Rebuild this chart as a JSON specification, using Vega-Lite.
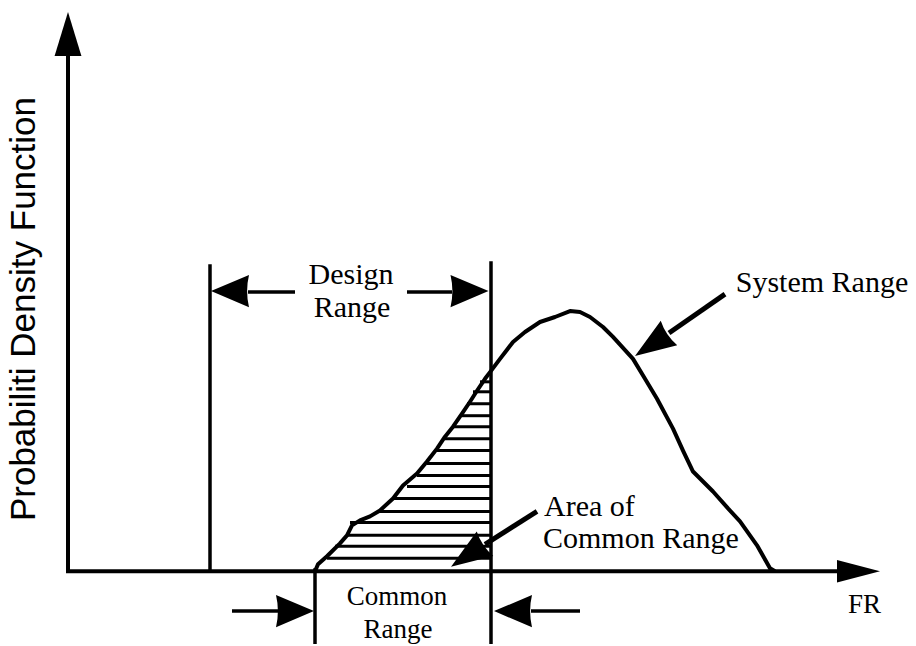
{
  "$schema": "https://vega.github.io/schema/vega-lite/v6.json",
  "width": 916,
  "height": 646,
  "autosize": {"type": "fit", "contains": "padding"},
  "padding": 0,
  "background": "white",
  "config": {"view": {"stroke": null}},
  "datasets": {
    "curve": [
      {"fr": 247, "pdf": 0}, {"fr": 250, "pdf": 7}, {"fr": 259, "pdf": 15}, {"fr": 272, "pdf": 28},
      {"fr": 279, "pdf": 36}, {"fr": 284, "pdf": 46}, {"fr": 292, "pdf": 51}, {"fr": 302, "pdf": 55},
      {"fr": 312, "pdf": 61}, {"fr": 325, "pdf": 73}, {"fr": 335, "pdf": 86}, {"fr": 349, "pdf": 98},
      {"fr": 359, "pdf": 110}, {"fr": 369, "pdf": 123}, {"fr": 377, "pdf": 135}, {"fr": 385, "pdf": 145},
      {"fr": 394, "pdf": 158}, {"fr": 402, "pdf": 170}, {"fr": 409, "pdf": 181}, {"fr": 417, "pdf": 193},
      {"fr": 423, "pdf": 201}, {"fr": 432, "pdf": 213}, {"fr": 445, "pdf": 230}, {"fr": 457, "pdf": 240},
      {"fr": 472, "pdf": 250}, {"fr": 487, "pdf": 255}, {"fr": 502, "pdf": 261}, {"fr": 512, "pdf": 260},
      {"fr": 522, "pdf": 255}, {"fr": 535, "pdf": 245}, {"fr": 545, "pdf": 235}, {"fr": 565, "pdf": 213},
      {"fr": 577, "pdf": 193}, {"fr": 589, "pdf": 173}, {"fr": 605, "pdf": 143}, {"fr": 615, "pdf": 121},
      {"fr": 625, "pdf": 100}, {"fr": 645, "pdf": 80}, {"fr": 660, "pdf": 63}, {"fr": 672, "pdf": 50},
      {"fr": 689, "pdf": 26}, {"fr": 702, "pdf": 3}, {"fr": 707, "pdf": 0}
    ],
    "segments": [
      {"x": 0, "y": 0, "x2": 0, "y2": 519, "part": "axis"},
      {"x": -2, "y": 0, "x2": 771, "y2": 0, "part": "axis"},
      {"x": 142, "y": 308, "x2": 142, "y2": 0, "part": "boundary"},
      {"x": 423, "y": 311, "x2": 423, "y2": -73, "part": "boundary"},
      {"x": 247, "y": 3, "x2": 247, "y2": -73, "part": "boundary"},
      {"x": 180, "y": 280, "x2": 227, "y2": 280, "part": "shaft"},
      {"x": 339, "y": 280, "x2": 384, "y2": 280, "part": "shaft"},
      {"x": 164, "y": -40, "x2": 211, "y2": -40, "part": "shaft"},
      {"x": 463, "y": -40, "x2": 512, "y2": -40, "part": "shaft"},
      {"x": 657, "y": 278, "x2": 601, "y2": 239, "part": "diag"},
      {"x": 469, "y": 60, "x2": 417, "y2": 27, "part": "diag"},
      {"x": 259, "y": 13, "x2": 422, "y2": 13, "part": "hatch"},
      {"x": 267, "y": 25, "x2": 422, "y2": 25, "part": "hatch"},
      {"x": 279, "y": 36, "x2": 422, "y2": 36, "part": "hatch"},
      {"x": 282, "y": 49, "x2": 422, "y2": 49, "part": "hatch"},
      {"x": 312, "y": 60, "x2": 422, "y2": 60, "part": "hatch"},
      {"x": 325, "y": 73, "x2": 422, "y2": 73, "part": "hatch"},
      {"x": 339, "y": 85, "x2": 422, "y2": 85, "part": "hatch"},
      {"x": 349, "y": 96, "x2": 422, "y2": 96, "part": "hatch"},
      {"x": 359, "y": 108, "x2": 422, "y2": 108, "part": "hatch"},
      {"x": 367, "y": 121, "x2": 422, "y2": 121, "part": "hatch"},
      {"x": 377, "y": 133, "x2": 422, "y2": 133, "part": "hatch"},
      {"x": 385, "y": 145, "x2": 422, "y2": 145, "part": "hatch"},
      {"x": 394, "y": 156, "x2": 422, "y2": 156, "part": "hatch"},
      {"x": 399, "y": 168, "x2": 422, "y2": 168, "part": "hatch"},
      {"x": 405, "y": 180, "x2": 422, "y2": 180, "part": "hatch"},
      {"x": 412, "y": 190, "x2": 422, "y2": 190, "part": "hatch"}
    ],
    "heads": [
      {"x": 0, "y": 539, "points": "up"},
      {"x": 790.5, "y": 0, "points": "axis-right"},
      {"x": 162, "y": 281, "points": "left"},
      {"x": 401.5, "y": 281, "points": "right"},
      {"x": 227, "y": -40, "points": "right"},
      {"x": 445, "y": -40, "points": "left"},
      {"x": 584, "y": 227.5, "points": "down-left"},
      {"x": 400, "y": 16, "points": "down-left"}
    ],
    "labels": [
      {"x": 283, "y": 288, "text": "Design", "group": "c30"},
      {"x": 284, "y": 255, "text": "Range", "group": "c30"},
      {"x": 754, "y": 280, "text": "System Range", "group": "c30"},
      {"x": 476, "y": 55, "text": "Area of", "group": "l30"},
      {"x": 475, "y": 23, "text": "Common Range", "group": "l30"},
      {"x": 329, "y": -34, "text": "Common", "group": "c27"},
      {"x": 330, "y": -67, "text": "Range", "group": "c27"},
      {"x": 796.5, "y": -42, "text": "FR", "group": "c27"},
      {"x": -33, "y": 263, "text": "Probabiliti Density Function", "group": "axis"}
    ]
  },
  "layer": [
    {
      "data": {"name": "segments"},
      "transform": [{"filter": "datum.part == 'hatch'"}],
      "mark": {"type": "rule", "color": "black", "strokeWidth": 3},
      "encoding": {
        "x": {"field": "x", "type": "quantitative", "scale": {"domain": [-68, 848], "nice": false, "zero": false}, "axis": null},
        "y": {"field": "y", "type": "quantitative", "scale": {"domain": [-73, 573], "nice": false, "zero": false}, "axis": null},
        "x2": {"field": "x2"},
        "y2": {"field": "y2"}
      }
    },
    {
      "data": {"name": "segments"},
      "transform": [{"filter": "datum.part == 'boundary'"}],
      "mark": {"type": "rule", "color": "black", "strokeWidth": 3.5},
      "encoding": {
        "x": {"field": "x", "type": "quantitative", "scale": {"domain": [-68, 848], "nice": false, "zero": false}, "axis": null},
        "y": {"field": "y", "type": "quantitative", "scale": {"domain": [-73, 573], "nice": false, "zero": false}, "axis": null},
        "x2": {"field": "x2"},
        "y2": {"field": "y2"}
      }
    },
    {
      "data": {"name": "segments"},
      "transform": [{"filter": "datum.part == 'axis'"}],
      "mark": {"type": "rule", "color": "black", "strokeWidth": 4},
      "encoding": {
        "x": {"field": "x", "type": "quantitative", "scale": {"domain": [-68, 848], "nice": false, "zero": false}, "axis": null},
        "y": {"field": "y", "type": "quantitative", "scale": {"domain": [-73, 573], "nice": false, "zero": false}, "axis": null},
        "x2": {"field": "x2"},
        "y2": {"field": "y2"}
      }
    },
    {
      "data": {"name": "segments"},
      "transform": [{"filter": "datum.part == 'shaft'"}],
      "mark": {"type": "rule", "color": "black", "strokeWidth": 3.5},
      "encoding": {
        "x": {"field": "x", "type": "quantitative", "scale": {"domain": [-68, 848], "nice": false, "zero": false}, "axis": null},
        "y": {"field": "y", "type": "quantitative", "scale": {"domain": [-73, 573], "nice": false, "zero": false}, "axis": null},
        "x2": {"field": "x2"},
        "y2": {"field": "y2"}
      }
    },
    {
      "data": {"name": "segments"},
      "transform": [{"filter": "datum.part == 'diag'"}],
      "mark": {"type": "rule", "color": "black", "strokeWidth": 5},
      "encoding": {
        "x": {"field": "x", "type": "quantitative", "scale": {"domain": [-68, 848], "nice": false, "zero": false}, "axis": null},
        "y": {"field": "y", "type": "quantitative", "scale": {"domain": [-73, 573], "nice": false, "zero": false}, "axis": null},
        "x2": {"field": "x2"},
        "y2": {"field": "y2"}
      }
    },
    {
      "data": {"name": "curve"},
      "mark": {"type": "line", "color": "black", "strokeWidth": 4, "strokeJoin": "round"},
      "encoding": {
        "x": {"field": "fr", "type": "quantitative", "scale": {"domain": [-68, 848], "nice": false, "zero": false}, "axis": null},
        "y": {"field": "pdf", "type": "quantitative", "scale": {"domain": [-73, 573], "nice": false, "zero": false}, "axis": null},
        "order": {"field": "fr", "type": "quantitative"}
      }
    },
    {
      "data": {"name": "heads"},
      "transform": [{"filter": "datum.points == 'up'"}],
      "mark": {"type": "point", "filled": true, "color": "black", "opacity": 1, "strokeWidth": 0, "size": 1936, "shape": "M0,-1L0.61,1L-0.61,1Z"},
      "encoding": {
        "x": {"field": "x", "type": "quantitative", "scale": {"domain": [-68, 848], "nice": false, "zero": false}, "axis": null},
        "y": {"field": "y", "type": "quantitative", "scale": {"domain": [-73, 573], "nice": false, "zero": false}, "axis": null}
      }
    },
    {
      "data": {"name": "heads"},
      "transform": [{"filter": "datum.points == 'axis-right'"}],
      "mark": {"type": "point", "filled": true, "color": "black", "opacity": 1, "strokeWidth": 0, "size": 1849, "shape": "M1,0L-1,0.52L-1,-0.52Z"},
      "encoding": {
        "x": {"field": "x", "type": "quantitative", "scale": {"domain": [-68, 848], "nice": false, "zero": false}, "axis": null},
        "y": {"field": "y", "type": "quantitative", "scale": {"domain": [-73, 573], "nice": false, "zero": false}, "axis": null}
      }
    },
    {
      "data": {"name": "heads"},
      "transform": [{"filter": "datum.points == 'right'"}],
      "mark": {"type": "point", "filled": true, "color": "black", "opacity": 1, "strokeWidth": 0, "size": 1444, "shape": "M1,0L-1,-0.85Q-0.8,0,-1,0.85Z"},
      "encoding": {
        "x": {"field": "x", "type": "quantitative", "scale": {"domain": [-68, 848], "nice": false, "zero": false}, "axis": null},
        "y": {"field": "y", "type": "quantitative", "scale": {"domain": [-73, 573], "nice": false, "zero": false}, "axis": null}
      }
    },
    {
      "data": {"name": "heads"},
      "transform": [{"filter": "datum.points == 'left'"}],
      "mark": {"type": "point", "filled": true, "color": "black", "opacity": 1, "strokeWidth": 0, "size": 1444, "shape": "M-1,0L1,-0.85Q0.8,0,1,0.85Z"},
      "encoding": {
        "x": {"field": "x", "type": "quantitative", "scale": {"domain": [-68, 848], "nice": false, "zero": false}, "axis": null},
        "y": {"field": "y", "type": "quantitative", "scale": {"domain": [-73, 573], "nice": false, "zero": false}, "axis": null}
      }
    },
    {
      "data": {"name": "heads"},
      "transform": [{"filter": "datum.points == 'down-left'"}],
      "mark": {"type": "point", "filled": true, "color": "black", "opacity": 1, "strokeWidth": 0, "size": 1681, "angle": 236, "shape": "M0,-1L0.72,1Q0,0.8,-0.72,1Z"},
      "encoding": {
        "x": {"field": "x", "type": "quantitative", "scale": {"domain": [-68, 848], "nice": false, "zero": false}, "axis": null},
        "y": {"field": "y", "type": "quantitative", "scale": {"domain": [-73, 573], "nice": false, "zero": false}, "axis": null}
      }
    },
    {
      "data": {"name": "labels"},
      "transform": [{"filter": "datum.group == 'c30'"}],
      "mark": {"type": "text", "font": "Liberation Serif", "fontSize": 30, "align": "center", "baseline": "alphabetic", "color": "black"},
      "encoding": {
        "x": {"field": "x", "type": "quantitative", "scale": {"domain": [-68, 848], "nice": false, "zero": false}, "axis": null},
        "y": {"field": "y", "type": "quantitative", "scale": {"domain": [-73, 573], "nice": false, "zero": false}, "axis": null},
        "text": {"field": "text"}
      }
    },
    {
      "data": {"name": "labels"},
      "transform": [{"filter": "datum.group == 'l30'"}],
      "mark": {"type": "text", "font": "Liberation Serif", "fontSize": 30, "align": "left", "baseline": "alphabetic", "color": "black"},
      "encoding": {
        "x": {"field": "x", "type": "quantitative", "scale": {"domain": [-68, 848], "nice": false, "zero": false}, "axis": null},
        "y": {"field": "y", "type": "quantitative", "scale": {"domain": [-73, 573], "nice": false, "zero": false}, "axis": null},
        "text": {"field": "text"}
      }
    },
    {
      "data": {"name": "labels"},
      "transform": [{"filter": "datum.group == 'c27'"}],
      "mark": {"type": "text", "font": "Liberation Serif", "fontSize": 27, "align": "center", "baseline": "alphabetic", "color": "black"},
      "encoding": {
        "x": {"field": "x", "type": "quantitative", "scale": {"domain": [-68, 848], "nice": false, "zero": false}, "axis": null},
        "y": {"field": "y", "type": "quantitative", "scale": {"domain": [-73, 573], "nice": false, "zero": false}, "axis": null},
        "text": {"field": "text"}
      }
    },
    {
      "data": {"name": "labels"},
      "transform": [{"filter": "datum.group == 'axis'"}],
      "mark": {"type": "text", "font": "Liberation Sans", "fontSize": 35, "align": "center", "baseline": "alphabetic", "angle": 270, "color": "black"},
      "encoding": {
        "x": {"field": "x", "type": "quantitative", "scale": {"domain": [-68, 848], "nice": false, "zero": false}, "axis": null},
        "y": {"field": "y", "type": "quantitative", "scale": {"domain": [-73, 573], "nice": false, "zero": false}, "axis": null},
        "text": {"field": "text"}
      }
    }
  ]
}
